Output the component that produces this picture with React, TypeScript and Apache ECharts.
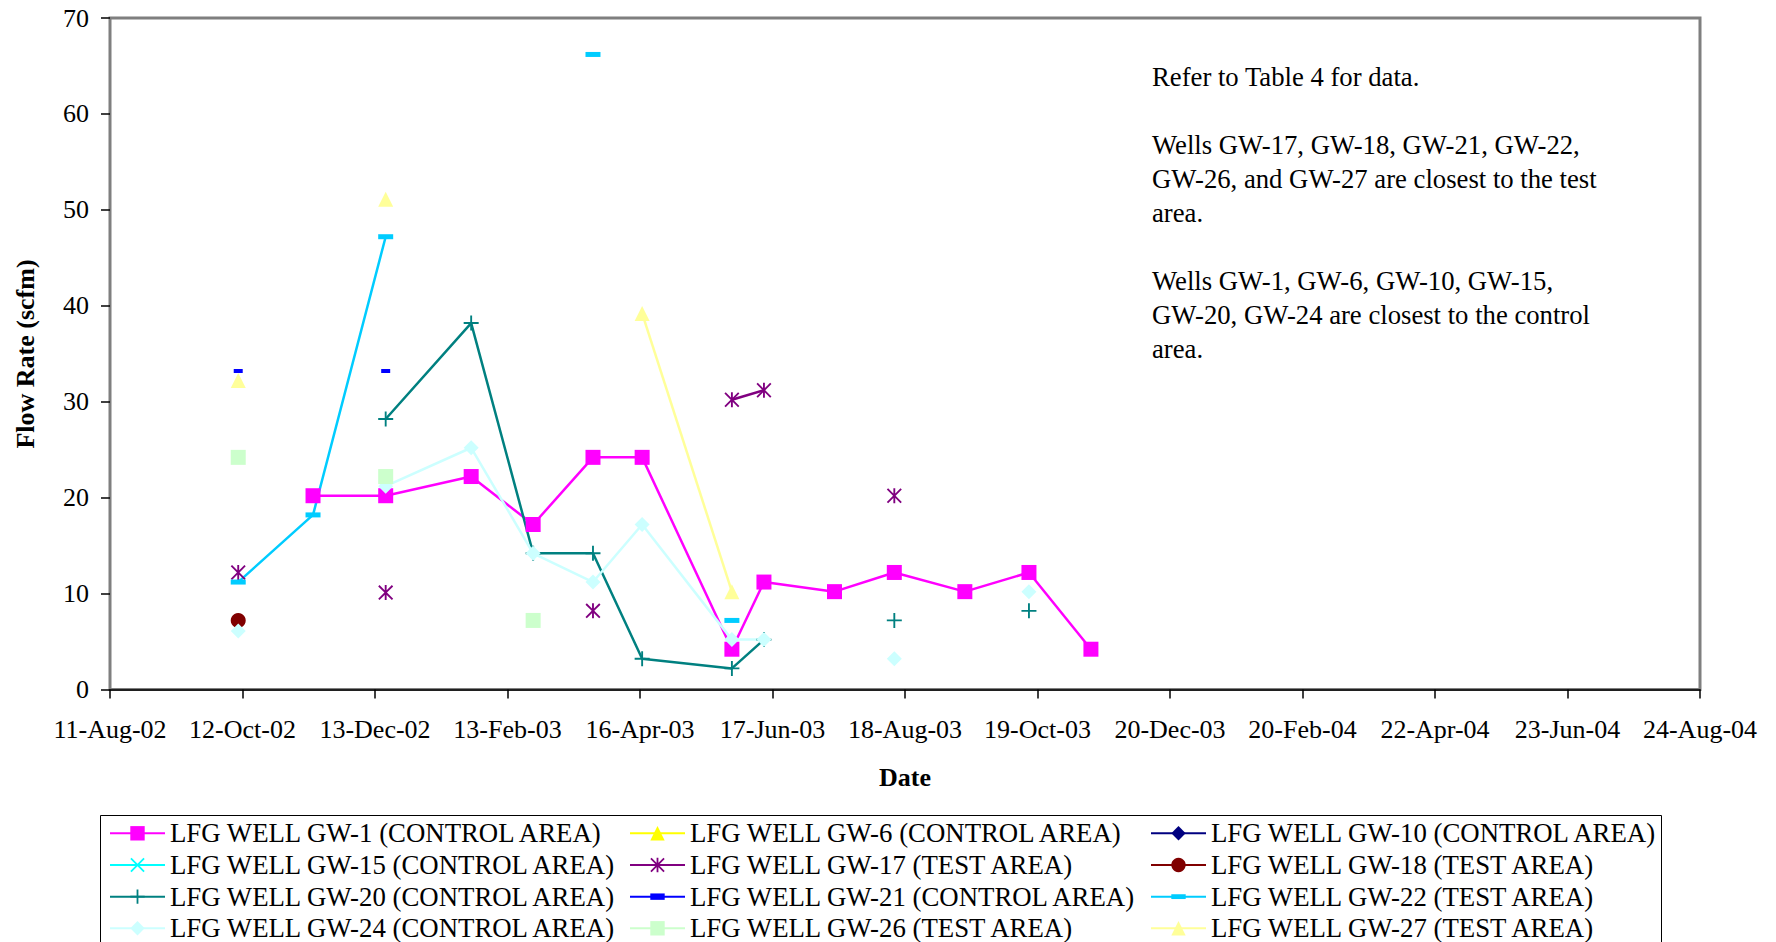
import React, { useEffect, useRef } from 'react';
import * as echarts from 'echarts';

// ---------- data ----------
const AXIS_START = '2002-08-11';
const TICK_STEP_DAYS = 62;
const X_TICK_LABELS = [
  '11-Aug-02', '12-Oct-02', '13-Dec-02', '13-Feb-03', '16-Apr-03', '17-Jun-03', '18-Aug-03',
  '19-Oct-03', '20-Dec-03', '20-Feb-04', '22-Apr-04', '23-Jun-04', '24-Aug-04',
];
const Y_MIN = 0;
const Y_MAX = 70;
const Y_STEP = 10;

const SAMPLE_DATES = [
  '2002-10-10', '2002-11-14', '2002-12-18', '2003-01-27', '2003-02-25', '2003-03-25', '2003-04-17',
  '2003-05-29', '2003-06-13', '2003-07-16', '2003-08-13', '2003-09-15', '2003-10-15', '2003-11-13',
];

const GW1 = [null, 20.2, 20.2, 22.2, 17.2, 24.2, 24.2, 4.2, 11.2, 10.2, 12.2, 10.2, 12.2, 4.2];
const GW6: (number | null)[] = [];
const GW10: (number | null)[] = [];
const GW15: (number | null)[] = [];
const GW17 = [12.2, null, 10.1, null, null, 8.2, null, 30.2, 31.2, null, 20.2, null, null, null];
const GW18 = [7.2, null, null, null, null, null, null, null, null, null, null, null, null, null];
const GW20 = [null, null, 28.2, 38.2, 14.2, 14.2, 3.2, 2.2, 5.2, null, 7.2, null, 8.2, null];
const GW21 = [33.2, null, 33.2, null, null, null, null, null, null, null, null, null, null, null];
const GW22 = [11.2, 18.2, 47.2, null, null, 66.2, null, 7.2, null, null, null, null, null, null];
const GW24 = [6.1, null, 21.2, 25.2, 14.2, 11.2, 17.2, 5.2, 5.2, null, 3.2, null, 10.2, null];
const GW26 = [24.2, null, 22.2, null, 7.2, null, null, null, null, null, null, null, null, null];
const GW27 = [32.2, null, 51.1, null, null, null, 39.2, 10.2, null, null, null, null, null, null];

const NOTE_LINES = [
  'Refer to Table 4 for data.',
  '',
  'Wells GW-17, GW-18, GW-21, GW-22,',
  'GW-26, and GW-27 are closest to the test',
  'area.',
  '',
  'Wells GW-1, GW-6, GW-10, GW-15,',
  'GW-20, GW-24 are closest to the control',
  'area.',
];

// ---------- styles ----------
const FONT = '"Liberation Serif", "Times New Roman", serif';
const PLUS = 'path://M7,0H9V7H16V9H9V16H7V9H0V7H7Z';
const XMARK = 'path://M1.4,0L8,6.6L14.6,0L16,1.4L9.4,8L16,14.6L14.6,16L8,9.4L1.4,16L0,14.6L6.6,8L0,1.4Z';
const STAR = 'path://M1.4,0L8,6.6L14.6,0L16,1.4L9.4,8L16,14.6L14.6,16L8,9.4L1.4,16L0,14.6L6.6,8L0,1.4ZM7,0H9V16H7Z';
const DASH_LONG = 'path://M0,0L0,0M15,15L15,15M0,5H15V10H0Z';
const DASH_SHORT = 'path://M0,0L0,0M9,9L9,9M0,2.5H9V6.5H0Z';

const WELLS = [
  { name: 'LFG WELL GW-1 (CONTROL AREA)', values: GW1, color: '#FF00FF', symbol: 'rect', size: 15 },
  { name: 'LFG WELL GW-6 (CONTROL AREA)', values: GW6, color: '#FFFF00', symbol: 'triangle', size: 15 },
  { name: 'LFG WELL GW-10 (CONTROL AREA)', values: GW10, color: '#000080', symbol: 'diamond', size: 15 },
  { name: 'LFG WELL GW-15 (CONTROL AREA)', values: GW15, color: '#00FFFF', symbol: XMARK, size: 15 },
  { name: 'LFG WELL GW-17 (TEST AREA)', values: GW17, color: '#800080', symbol: STAR, size: 15 },
  { name: 'LFG WELL GW-18 (TEST AREA)', values: GW18, color: '#800000', symbol: 'circle', size: 15 },
  { name: 'LFG WELL GW-20 (CONTROL AREA)', values: GW20, color: '#008080', symbol: PLUS, size: 15 },
  { name: 'LFG WELL GW-21 (CONTROL AREA)', values: GW21, color: '#0000FF', symbol: DASH_SHORT, size: 9 },
  { name: 'LFG WELL GW-22 (TEST AREA)', values: GW22, color: '#00CCFF', symbol: DASH_LONG, size: 15 },
  { name: 'LFG WELL GW-24 (CONTROL AREA)', values: GW24, color: '#CCFFFF', symbol: 'diamond', size: 15 },
  { name: 'LFG WELL GW-26 (TEST AREA)', values: GW26, color: '#CCFFCC', symbol: 'rect', size: 15 },
  { name: 'LFG WELL GW-27 (TEST AREA)', values: GW27, color: '#FFFF99', symbol: 'triangle', size: 15 },
];

const DAY_MS = 86400000;
const dayOffset = (d: string) => Math.round((Date.parse(d) - Date.parse(AXIS_START)) / DAY_MS);

export default function App() {
  const ref = useRef<HTMLDivElement>(null);

  useEffect(() => {
    if (!ref.current) return;
    const chart = echarts.init(ref.current, null, { renderer: 'svg' });

    const series = WELLS.map((w) => ({
      name: w.name,
      type: 'line',
      data: SAMPLE_DATES.map((d, i) => {
        const v = w.values[i];
        return [dayOffset(d), v == null ? '-' : v];
      }),
      connectNulls: false,
      symbol: w.symbol,
      symbolSize: w.size,
      showSymbol: true,
      showAllSymbol: true,
      lineStyle: { color: w.color, width: 2.5 },
      itemStyle: { color: w.color, borderWidth: 0 },
      emphasis: { disabled: true },
      silent: true,
      clip: false,
    }));

    const legendCols = [0, 1, 2].map((c) => WELLS.filter((_, i) => i % 3 === c).map((w) => w.name));
    const legendLefts = [109, 629, 1150];

    chart.setOption({
      animation: false,
      backgroundColor: '#ffffff',
      grid: {
        left: 110,
        right: 76,
        top: 18,
        bottom: 252.5,
        show: true,
        borderColor: '#7f7f7f',
        borderWidth: 3,
        backgroundColor: 'transparent',
        containLabel: false,
        outerBoundsMode: 'none',
      },
      xAxis: {
        type: 'value',
        min: 0,
        max: (X_TICK_LABELS.length - 1) * TICK_STEP_DAYS,
        interval: TICK_STEP_DAYS,
        axisLine: { show: true, onZero: false, lineStyle: { color: '#000', width: 1.5 } },
        axisTick: { show: true, inside: false, length: 9, lineStyle: { color: '#000', width: 1.5 } },
        axisLabel: {
          formatter: (v: number) => X_TICK_LABELS[Math.round(v / TICK_STEP_DAYS)] ?? '',
          fontFamily: FONT,
          fontSize: 26,
          lineHeight: 26,
          color: '#000',
          margin: 27,
        },
        splitLine: { show: false },
      },
      yAxis: {
        type: 'value',
        min: Y_MIN,
        max: Y_MAX,
        interval: Y_STEP,
        axisLine: { show: false },
        axisTick: { show: true, inside: false, length: 9, lineStyle: { color: '#000', width: 1.5 } },
        axisLabel: { fontFamily: FONT, fontSize: 26, lineHeight: 26, color: '#000', margin: 21 },
        splitLine: { show: false },
      },
      legend: legendCols.map((names, k) => ({
        orient: 'vertical',
        left: legendLefts[k],
        top: 819.8,
        width: 520,
        height: 300,
        padding: 0,
        itemWidth: 55,
        itemHeight: 18,
        itemGap: 4.67,
        selectedMode: false,
        data: names,
        textStyle: { fontFamily: FONT, fontSize: 26.8, lineHeight: 27, color: '#000' },
      })),
      graphic: [
        {
          type: 'rect',
          silent: true,
          shape: { x: 100.5, y: 815.5, width: 1561, height: 200 },
          style: { fill: 'none', stroke: '#000', lineWidth: 1 },
        },
        {
          type: 'text',
          silent: true,
          x: 1152,
          y: 59.5,
          style: {
            text: NOTE_LINES.join('\n'),
            fontFamily: FONT,
            fontSize: 26.7,
            lineHeight: 34,
            fill: '#000',
            align: 'left',
            verticalAlign: 'top',
          },
        },
        {
          type: 'text',
          silent: true,
          x: 25,
          y: 354,
          rotation: Math.PI / 2,
          style: {
            text: 'Flow Rate (scfm)',
            fontFamily: FONT,
            fontSize: 26,
            fontWeight: 'bold',
            fill: '#000',
            align: 'center',
            verticalAlign: 'middle',
          },
        },
        {
          type: 'text',
          silent: true,
          x: 905,
          y: 777,
          style: {
            text: 'Date',
            fontFamily: FONT,
            fontSize: 26,
            fontWeight: 'bold',
            fill: '#000',
            align: 'center',
            verticalAlign: 'middle',
          },
        },
      ],
      series,
    });

    return () => chart.dispose();
  }, []);

  return (
    <div
      ref={ref}
      style={{ position: 'fixed', left: 0, top: 0, width: 1776, height: 942, background: '#fff' }}
    />
  );
}
